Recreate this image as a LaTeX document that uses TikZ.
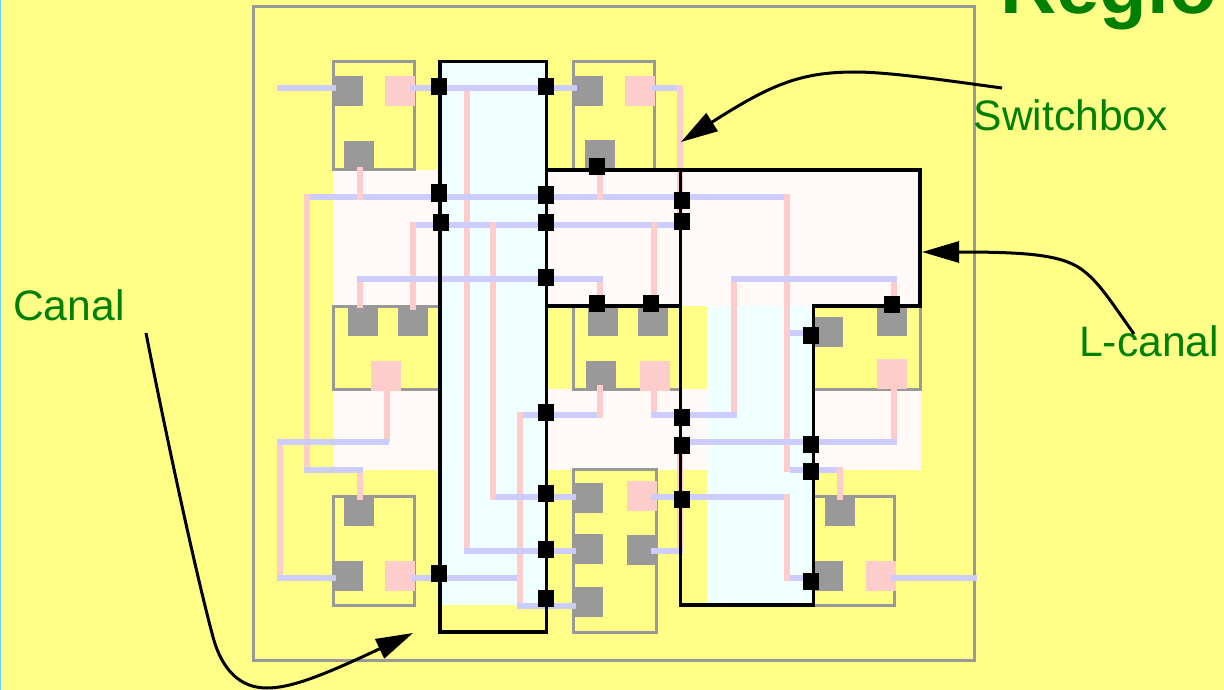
\documentclass[tikz,border=0pt]{standalone}
\usepackage{fontspec}
\setmainfont{Liberation Sans}
\usetikzlibrary{arrows.meta}

\definecolor{bgyellow}{RGB}{255,255,136}
\definecolor{snowfill}{RGB}{255,250,248}
\definecolor{canalfill}{RGB}{240,255,255}
\definecolor{cellgray}{RGB}{153,153,153}
\definecolor{wirepink}{RGB}{255,204,204}
\definecolor{wireblue}{RGB}{204,204,255}
\definecolor{labelgreen}{RGB}{0,128,0}
\definecolor{edgeblue}{RGB}{102,204,255}

\tikzset{
  cellbox/.style={draw=cellgray,line width=3pt},
  canalbox/.style={draw=black,line width=3.2pt},
  graypin/.style={fill=cellgray,inner sep=0pt,minimum size=30pt},
  pinkpin/.style={fill=wirepink,inner sep=0pt,minimum size=30pt},
  switchpt/.style={fill=black,inner sep=0pt,minimum width=16pt,minimum height=17pt},
  pinkwire/.style={draw=wirepink,line width=6pt},
  bluewire/.style={draw=wireblue,line width=6pt},
  callout/.style={draw=black,line width=3pt,-{Triangle[length=37pt,width=21pt]}},
  labeltext/.style={text=labelgreen,inner sep=0pt,anchor=base west,font=\fontsize{42.6}{43}\selectfont}
}

\begin{document}
\begin{tikzpicture}[x=1pt,y=-1pt]

\useasboundingbox (0,0) rectangle (1224,690);
\fill[bgyellow] (0,0) rectangle (1224,690);
\fill[edgeblue] (0,0) rectangle (1.2,690);

% channels
\foreach \xa/\ya/\xb/\yb in {333/170/440/306,547/170/920/306,333/389/440/470,547/389/707/470,813/389/921/470}
  \fill[snowfill] (\xa,\ya) rectangle (\xb,\yb);
\foreach \xa/\ya/\xb/\yb in {440/61/547/605,707/306/813/605}
  \fill[canalfill] (\xa,\ya) rectangle (\xb,\yb);

% region and logic cells
\draw[cellbox] (253,7) rectangle (974,660);
\foreach \xa/\ya/\xb/\yb in {333/61.5/414/170,573/61.5/654/170,333/306/440/389,573/306/680/389,813/306/920/389,333/496/414/605,573/469/656/632,813/496/894/605}
  \draw[cellbox] (\xa,\ya) rectangle (\xb,\yb);

% pins
\foreach \name/\x/\y in {a1/348/91,a2/359/156,b1/587.5/91,b2/599.5/155.5,c1/362.5/321,c2/413/321,d1/603/321,d2/653/321,d3/601/376,e1/827.5/332,e2/891.5/321,f1/359/511,f2/347.5/576,g1/587.5/497.5,g2/588/549,g3/588/601.5,g4/642/550,h1/840/510.5,h2/827.5/576}
  \node[graypin] (\name) at (\x,\y) {};
\foreach \name/\x/\y in {a3/400/91,b3/640/91,c3/386/376,d4/654.5/376,e3/891.5/374,f3/400/576,g5/642/496,h3/880.5/576}
  \node[pinkpin] (\name) at (\x,\y) {};

% wires
\foreach \x/\ya/\yb in {680/85/225,680/445/554,307/194/470,360/167/200,600/165/200,787/194/472,840/467/500,413/222/310,493/222/500,654/222/306,467/86/548,360/279/308,600/279/306,734/279/418,654/391/415,894/279/306,894/389/442,387/391/442,280/442/578,360/470/500,520/412/606,600/385/418,787/494/581}
  \draw[pinkwire] (\x,\ya) -- (\x,\yb);
\foreach \y/\xa/\xb in {88/277/336,88/410/577,88/651/677,197/310/357,197/363/597,197/603/784,225/416/490,225/496/651,225/657/682,279/357/603,279/731/897,333/790/815,415/523/597,415/651/737,442/277/389,442/682/897,470/304/363,470/790/837,497/496/576,497/651/784,551/464/576,551/651/683,578/277/336,578/411/517,578/790/815,578/891/977,606/517/576}
  \draw[bluewire] (\xa,\y) -- (\xb,\y);

% canals
\draw[canalbox] (440,61.5) rectangle (546.5,632);
\draw[canalbox] (546.5,170) rectangle (680.5,306);
\draw[canalbox] (680.5,170) -- (920,170) -- (920,306) -- (813.5,306) -- (813.5,605) -- (680.5,605) -- cycle;

% switch points
\foreach \x/\y [count=\i] in {439/87,546/87,439/193,546/195,441/222,546/222,546/277,597/167,682/200,682/221,597/303,651/303,892/304,811/335,439/573,546/412,546/493,546/549,546/598,682/417,682/445,682/499,811/444,811/471,811/581}
  \node[switchpt] (s\i) at (\x,\y) {};

% labels
\node[inner sep=0pt,anchor=base west,text=labelgreen,font=\bfseries\fontsize{78}{78}\selectfont] (title) at (1000,14) {Regio};
\node[labeltext] (switchlabel) at (973.5,131) {Switchbox};
\node[labeltext] (canallabel) at (13,320) {Canal};
\node[labeltext] (lcanallabel) at (1079,356) {L-canal};

% callouts
\coordinate (swtail) at (1002,88);
\coordinate (swtip) at (681,142);
\coordinate (cantail) at (146,333);
\coordinate (cantip) at (413,633);
\coordinate (lctail) at (1134,334);
\coordinate (lctip) at (922,252);
\draw[callout] (swtail) .. controls (950,81) and (890,72) .. (855,72) .. controls (800,72) and (770,85) .. (swtip);
\draw[callout] (cantail) .. controls (165,430) and (195,570) .. (213,637) .. controls (222,670) and (240,688) .. (267,688) .. controls (290,688) and (320,677) .. (cantip);
\draw[callout] (lctail) .. controls (1112,303) and (1100,284) .. (1085,272) .. controls (1065,255) and (1030,252) .. (lctip);

\end{tikzpicture}
\end{document}
